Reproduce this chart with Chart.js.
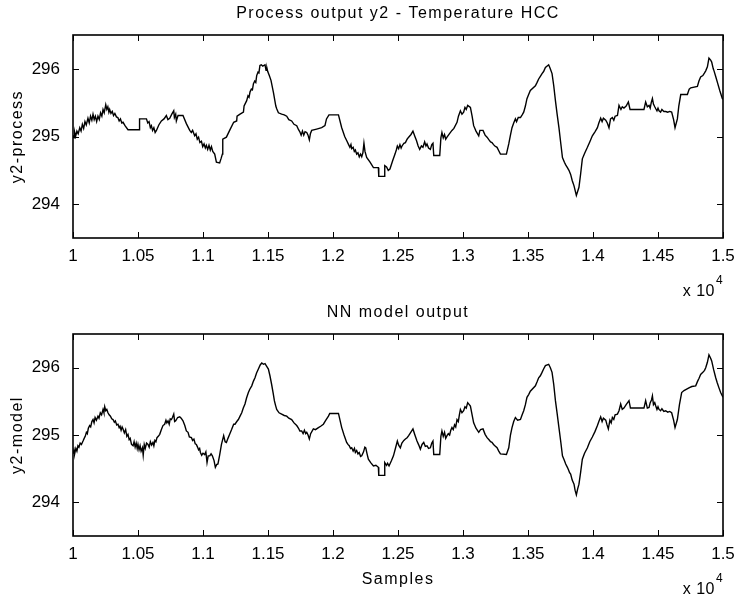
<!DOCTYPE html>
<html><head><meta charset="utf-8">
<script src="https://cdn.jsdelivr.net/npm/chart.js@4.4.1/dist/chart.umd.min.js"></script>
<style>
html,body{margin:0;padding:0;background:#fff;width:737px;height:601px;overflow:hidden}
.box{position:absolute;left:0;width:737px}
#w1{top:0;height:300px}
#w2{top:300px;height:301px}
canvas{display:block}
</style></head><body>
<div class="box" id="w1"><canvas id="c1" width="737" height="300"></canvas></div>
<div class="box" id="w2"><canvas id="c2" width="737" height="301"></canvas></div>
<script>
// ---- data (samples, temperature) ----
const xTickValues = [10000,10500,11000,11500,12000,12500,13000,13500,14000,14500,15000];
const xTickLabels = ['1','1.05','1.1','1.15','1.2','1.25','1.3','1.35','1.4','1.45','1.5'];
const yTickValues = [294,295,296];
const yTickLabels = ['294','295','296'];
const titles = ['Process output y2 - Temperature HCC','NN model output'];
const yTitles = ['y2-process','y2-model'];
const xTitle = 'Samples';

const processData = [[10000,295.02],[10008,294.98],[10013,295.06],[10020,295.00],[10030,295.08],[10040,295.04],[10052,295.13],[10062,295.08],[10072,295.18],[10082,295.12],[10092,295.22],[10102,295.17],[10115,295.27],[10125,295.20],[10135,295.30],[10145,295.24],[10154,295.33],[10163,295.25],[10172,295.30],[10182,295.22],[10192,295.30],[10202,295.25],[10212,295.35],[10222,295.30],[10231,295.40],[10240,295.35],[10252,295.47],[10260,295.40],[10268,295.44],[10276,295.36],[10282,295.40],[10292,295.34],[10302,295.37],[10312,295.31],[10322,295.34],[10334,295.29],[10345,295.28],[10355,295.23],[10365,295.26],[10375,295.20],[10385,295.21],[10400,295.16],[10423,295.10],[10508,295.10],[10512,295.26],[10565,295.26],[10575,295.20],[10585,295.22],[10595,295.13],[10603,295.16],[10612,295.09],[10622,295.13],[10632,295.06],[10642,295.09],[10660,295.17],[10680,295.23],[10700,295.26],[10718,295.31],[10730,295.25],[10744,295.27],[10760,295.33],[10775,295.38],[10780,295.28],[10790,295.33],[10795,295.23],[10808,295.31],[10846,295.31],[10872,295.19],[10898,295.09],[10910,295.06],[10920,295.09],[10936,295.01],[10946,295.04],[10956,294.96],[10966,294.99],[10976,294.91],[10988,294.93],[10998,294.85],[11008,294.89],[11018,294.83],[11026,294.87],[11036,294.81],[11046,294.87],[11056,294.80],[11065,294.85],[11075,294.78],[11090,294.74],[11103,294.62],[11128,294.61],[11140,294.68],[11149,294.74],[11152,294.96],[11180,294.99],[11205,295.09],[11236,295.21],[11259,295.23],[11262,295.30],[11285,295.33],[11311,295.36],[11316,295.45],[11336,295.53],[11346,295.60],[11354,295.58],[11362,295.66],[11372,295.70],[11380,295.69],[11388,295.78],[11398,295.82],[11406,295.80],[11413,295.90],[11423,295.95],[11430,295.94],[11438,296.05],[11448,296.06],[11460,296.04],[11477,296.06],[11485,295.98],[11492,296.01],[11498,295.96],[11510,295.90],[11523,295.83],[11542,295.65],[11560,295.45],[11567,295.41],[11580,295.35],[11605,295.33],[11625,295.32],[11644,295.30],[11660,295.25],[11682,295.23],[11700,295.18],[11721,295.16],[11735,295.10],[11745,295.07],[11755,295.02],[11765,295.08],[11775,295.02],[11785,295.07],[11798,295.06],[11808,295.02],[11818,294.95],[11826,295.04],[11836,295.09],[11874,295.11],[11913,295.13],[11938,295.16],[11950,295.26],[11969,295.32],[12042,295.32],[12067,295.13],[12090,295.00],[12105,294.94],[12120,294.88],[12130,294.84],[12138,294.88],[12144,294.82],[12155,294.84],[12164,294.78],[12172,294.80],[12182,294.74],[12192,294.76],[12202,294.70],[12212,294.74],[12221,294.70],[12230,294.76],[12238,294.90],[12246,294.78],[12259,294.69],[12285,294.62],[12311,294.54],[12349,294.54],[12352,294.41],[12395,294.41],[12398,294.57],[12412,294.55],[12425,294.50],[12438,294.52],[12460,294.65],[12477,294.74],[12487,294.80],[12495,294.86],[12505,294.82],[12515,294.88],[12524,294.83],[12531,294.86],[12545,294.90],[12557,294.91],[12570,294.96],[12582,294.99],[12600,295.03],[12615,295.08],[12630,295.00],[12642,294.94],[12655,294.86],[12667,294.81],[12680,294.86],[12692,294.84],[12705,294.92],[12715,294.86],[12723,294.89],[12735,294.83],[12749,294.81],[12760,294.88],[12769,294.90],[12775,294.72],[12821,294.72],[12830,294.98],[12838,295.06],[12848,294.98],[12858,295.03],[12867,294.96],[12877,294.99],[12895,295.04],[12915,295.09],[12930,295.12],[12954,295.21],[12965,295.30],[12980,295.38],[12992,295.33],[13005,295.36],[13015,295.43],[13025,295.40],[13036,295.46],[13057,295.43],[13070,295.30],[13082,295.16],[13100,295.08],[13121,295.01],[13130,295.09],[13154,295.09],[13170,295.02],[13185,294.99],[13200,294.95],[13212,294.92],[13223,294.91],[13235,294.88],[13245,294.86],[13262,294.84],[13275,294.79],[13288,294.74],[13334,294.74],[13352,294.89],[13365,295.02],[13377,295.13],[13390,295.20],[13403,295.26],[13412,295.22],[13425,295.28],[13442,295.28],[13455,295.32],[13467,295.36],[13480,295.45],[13492,295.56],[13505,295.62],[13518,295.68],[13557,295.75],[13570,295.80],[13582,295.85],[13595,295.89],[13608,295.93],[13620,295.96],[13634,296.02],[13659,296.06],[13670,296.01],[13685,295.93],[13698,295.75],[13711,295.53],[13724,295.33],[13738,295.13],[13752,294.90],[13765,294.69],[13780,294.62],[13790,294.58],[13803,294.54],[13815,294.50],[13828,294.44],[13840,294.35],[13854,294.27],[13872,294.13],[13892,294.25],[13905,294.45],[13918,294.67],[13935,294.75],[13957,294.84],[13975,294.92],[13995,295.01],[14015,295.07],[14034,295.13],[14045,295.20],[14059,295.27],[14070,295.22],[14080,295.27],[14098,295.24],[14110,295.20],[14123,295.13],[14135,295.26],[14149,295.28],[14160,295.24],[14170,295.30],[14188,295.31],[14200,295.46],[14215,295.40],[14225,295.44],[14238,295.42],[14255,295.45],[14272,295.51],[14285,295.40],[14298,295.40],[14392,295.40],[14405,295.51],[14418,295.44],[14431,295.46],[14440,295.42],[14448,295.50],[14457,295.56],[14465,295.48],[14475,295.44],[14483,295.41],[14492,295.38],[14500,295.42],[14508,295.38],[14520,295.36],[14530,295.40],[14545,295.37],[14559,295.37],[14575,295.36],[14590,295.37],[14605,295.36],[14620,295.25],[14631,295.13],[14649,295.26],[14660,295.45],[14675,295.62],[14726,295.62],[14740,295.70],[14752,295.72],[14803,295.74],[14815,295.82],[14828,295.88],[14845,295.90],[14858,295.94],[14867,295.97],[14880,296.03],[14892,296.16],[14905,296.13],[14913,296.10],[14925,296.00],[14931,295.97],[14945,295.88],[14957,295.80],[14975,295.68],[14995,295.56],[15000,295.55]];

const modelData = [[10000,294.72],[10008,294.78],[10013,294.72],[10022,294.80],[10030,294.76],[10038,294.84],[10046,294.82],[10055,294.88],[10065,294.86],[10077,294.91],[10086,294.95],[10094,294.98],[10103,295.04],[10110,295.02],[10118,295.10],[10128,295.14],[10136,295.12],[10145,295.20],[10154,295.23],[10162,295.18],[10170,295.26],[10180,295.22],[10192,295.28],[10200,295.25],[10210,295.33],[10220,295.30],[10231,295.38],[10238,295.33],[10244,295.42],[10252,295.36],[10260,295.38],[10269,295.33],[10278,295.30],[10288,295.28],[10298,295.24],[10308,295.23],[10318,295.19],[10326,295.21],[10336,295.15],[10346,295.16],[10355,295.11],[10362,295.13],[10370,295.07],[10378,295.12],[10385,295.09],[10395,295.03],[10405,295.08],[10414,294.98],[10423,295.01],[10432,294.93],[10440,294.95],[10450,294.86],[10462,294.84],[10470,294.90],[10478,294.82],[10486,294.88],[10494,294.80],[10500,294.86],[10508,294.78],[10516,294.84],[10524,294.76],[10534,294.81],[10540,294.70],[10548,294.86],[10556,294.80],[10566,294.88],[10577,294.86],[10586,294.82],[10595,294.90],[10605,294.85],[10615,294.89],[10622,294.84],[10630,294.92],[10638,294.90],[10646,294.96],[10656,294.98],[10667,295.01],[10680,295.08],[10692,295.14],[10705,295.16],[10715,295.22],[10722,295.18],[10731,295.21],[10740,295.16],[10748,295.24],[10757,295.23],[10765,295.26],[10775,295.31],[10782,295.20],[10790,295.21],[10805,295.26],[10821,295.27],[10832,295.25],[10846,295.21],[10860,295.14],[10872,295.06],[10885,295.04],[10895,294.97],[10911,294.96],[10920,294.92],[10930,294.94],[10940,294.87],[10949,294.86],[10958,294.82],[10966,294.78],[10974,294.80],[10980,294.74],[10990,294.70],[11000,294.73],[11013,294.71],[11022,294.75],[11031,294.59],[11040,294.69],[11052,294.69],[11062,294.72],[11072,294.69],[11085,294.62],[11095,294.52],[11105,294.56],[11115,294.57],[11128,294.70],[11142,294.86],[11159,294.99],[11170,294.90],[11180,294.89],[11192,294.95],[11205,295.01],[11220,295.08],[11236,295.16],[11246,295.16],[11260,295.20],[11272,295.23],[11285,295.28],[11298,295.33],[11310,295.40],[11323,295.46],[11335,295.55],[11349,295.63],[11360,295.68],[11375,295.73],[11388,295.80],[11400,295.85],[11412,295.92],[11426,295.98],[11440,296.04],[11452,296.07],[11465,296.05],[11477,296.06],[11490,296.02],[11503,295.98],[11515,295.88],[11528,295.75],[11540,295.62],[11549,295.51],[11558,295.44],[11567,295.38],[11585,295.33],[11605,295.31],[11625,295.29],[11644,295.28],[11660,295.25],[11682,295.23],[11700,295.18],[11721,295.14],[11735,295.10],[11745,295.06],[11759,295.06],[11770,295.02],[11780,295.07],[11790,295.02],[11798,295.04],[11808,295.00],[11818,294.94],[11828,295.02],[11849,295.09],[11865,295.08],[11888,295.11],[11905,295.13],[11926,295.16],[11945,295.22],[11965,295.28],[11975,295.32],[12042,295.32],[12067,295.11],[12085,295.00],[12105,294.89],[12115,294.86],[12125,294.84],[12135,294.80],[12144,294.81],[12155,294.76],[12165,294.80],[12172,294.74],[12182,294.77],[12192,294.72],[12202,294.74],[12212,294.68],[12221,294.69],[12235,294.75],[12245,294.82],[12252,294.81],[12262,294.72],[12272,294.64],[12290,294.59],[12311,294.54],[12330,294.55],[12349,294.52],[12352,294.40],[12395,294.40],[12398,294.59],[12412,294.55],[12420,294.58],[12431,294.54],[12450,294.62],[12465,294.69],[12480,294.80],[12495,294.91],[12505,294.85],[12518,294.81],[12530,294.88],[12545,294.92],[12557,294.94],[12570,294.96],[12582,294.99],[12598,295.04],[12615,295.09],[12630,295.00],[12646,294.91],[12660,294.85],[12672,294.79],[12685,294.86],[12698,294.89],[12710,294.83],[12723,294.84],[12735,294.80],[12749,294.81],[12760,294.88],[12769,294.91],[12775,294.71],[12821,294.71],[12830,294.98],[12838,295.06],[12848,294.98],[12858,295.04],[12867,294.95],[12877,294.99],[12887,295.02],[12897,295.00],[12906,295.07],[12915,295.11],[12925,295.08],[12935,295.15],[12944,295.12],[12954,295.23],[12964,295.20],[12972,295.30],[12980,295.38],[12992,295.33],[13005,295.36],[13015,295.42],[13025,295.40],[13036,295.48],[13057,295.43],[13070,295.30],[13082,295.18],[13100,295.10],[13121,295.04],[13135,295.08],[13154,295.09],[13170,295.01],[13185,294.96],[13200,294.93],[13212,294.90],[13223,294.89],[13235,294.86],[13245,294.84],[13262,294.81],[13275,294.76],[13288,294.72],[13334,294.71],[13352,294.81],[13365,295.00],[13377,295.11],[13390,295.20],[13403,295.26],[13420,295.22],[13442,295.23],[13455,295.30],[13467,295.36],[13480,295.45],[13492,295.56],[13505,295.60],[13518,295.65],[13557,295.73],[13570,295.79],[13582,295.85],[13595,295.88],[13608,295.93],[13620,295.98],[13634,296.03],[13659,296.05],[13672,296.00],[13685,295.93],[13698,295.75],[13711,295.51],[13724,295.32],[13738,295.11],[13752,294.90],[13765,294.69],[13780,294.62],[13790,294.57],[13803,294.52],[13812,294.48],[13820,294.44],[13828,294.42],[13840,294.33],[13854,294.27],[13862,294.18],[13872,294.11],[13882,294.20],[13892,294.27],[13905,294.45],[13918,294.64],[13935,294.73],[13957,294.81],[13975,294.90],[13995,294.97],[14015,295.05],[14034,295.14],[14045,295.20],[14059,295.27],[14070,295.20],[14080,295.25],[14098,295.22],[14108,295.15],[14118,295.09],[14130,295.22],[14140,295.18],[14149,295.26],[14160,295.23],[14170,295.30],[14188,295.31],[14200,295.36],[14213,295.46],[14225,295.38],[14238,295.40],[14255,295.45],[14277,295.51],[14288,295.40],[14298,295.40],[14392,295.40],[14405,295.51],[14418,295.40],[14431,295.41],[14440,295.48],[14450,295.52],[14457,295.58],[14465,295.45],[14475,295.48],[14483,295.43],[14492,295.38],[14500,295.42],[14508,295.38],[14520,295.36],[14530,295.39],[14545,295.35],[14559,295.36],[14575,295.34],[14590,295.35],[14605,295.33],[14620,295.22],[14631,295.11],[14649,295.23],[14665,295.45],[14682,295.63],[14700,295.66],[14738,295.70],[14760,295.72],[14790,295.73],[14805,295.80],[14815,295.84],[14828,295.90],[14845,295.93],[14858,295.96],[14867,296.00],[14880,296.08],[14892,296.19],[14905,296.14],[14913,296.10],[14928,295.97],[14944,295.85],[14955,295.78],[14969,295.70],[14982,295.63],[14995,295.58],[15000,295.56]];

const FONT = "'Liberation Sans', Arial, Helvetica, sans-serif";

function framePlugin(idx, showXTitle) {
  return {
    id: 'matlabFrame' + idx,
    afterDraw(chart) {
      const ctx = chart.ctx, a = chart.chartArea;
      const xs = chart.scales.x, ys = chart.scales.y;
      ctx.save();
      ctx.strokeStyle = '#000';
      ctx.lineWidth = 1.6;
      ctx.strokeRect(a.left, a.top, a.right - a.left, a.bottom - a.top);
      ctx.lineWidth = 1;
      const L = 6;
      ctx.beginPath();
      xTickValues.forEach(v => {
        const px = Math.round(xs.getPixelForValue(v)) + 0.5;
        ctx.moveTo(px, a.bottom); ctx.lineTo(px, a.bottom - L);
        ctx.moveTo(px, a.top); ctx.lineTo(px, a.top + L);
      });
      yTickValues.forEach(v => {
        const py = Math.round(ys.getPixelForValue(v)) + 0.5;
        ctx.moveTo(a.left, py); ctx.lineTo(a.left + L, py);
        ctx.moveTo(a.right, py); ctx.lineTo(a.right - L, py);
      });
      ctx.stroke();

      ctx.fillStyle = '#000';
      if ('letterSpacing' in ctx) ctx.letterSpacing = '1.5px';
      ctx.font = '16px ' + FONT;
      ctx.textAlign = 'center';
      ctx.textBaseline = 'middle';
      const cx = (a.left + a.right) / 2;
      ctx.fillText(titles[idx], cx, a.top - 21);
      if (showXTitle) ctx.fillText(xTitle, cx, a.bottom + 44);
      ctx.save();
      ctx.translate(18, (a.top + a.bottom) / 2);
      ctx.rotate(-Math.PI / 2);
      ctx.fillText(yTitles[idx], 0, 0);
      ctx.restore();
      if ('letterSpacing' in ctx) ctx.letterSpacing = '0.5px';
      // exponent label
      ctx.textAlign = 'right';
      ctx.font = '16px ' + FONT;
      ctx.fillText('x 10', a.right - 8, a.bottom + 54);
      ctx.textAlign = 'left';
      ctx.font = '12px ' + FONT;
      ctx.fillText('4', a.right - 7, a.bottom + 43);
      ctx.restore();
    }
  };
}

function makeChart(id, data, idx, padTop, xHeight, showXTitle) {
  return new Chart(document.getElementById(id), {
    type: 'line',
    data: { datasets: [{
      data: data.map(p => ({x: p[0], y: p[1]})),
      borderColor: '#000', borderWidth: 1.4, pointRadius: 0, tension: 0,
      fill: false
    }]},
    options: {
      responsive: false, animation: false, devicePixelRatio: 1,
      layout: { padding: { top: padTop, right: 14, left: 0, bottom: 0 } },
      plugins: { legend: { display: false }, tooltip: { enabled: false }, title: { display: false } },
      scales: {
        x: {
          type: 'linear', min: 10000, max: 15000,
          afterBuildTicks: s => { s.ticks = xTickValues.map(v => ({value: v})); },
          afterFit: s => { s.height = xHeight; s.paddingLeft = 0; s.paddingRight = 0; },
          grid: { display: false, drawTicks: false }, border: { display: false },
          ticks: { color: '#000', font: { size: 17, family: FONT }, padding: 8, maxRotation: 0, autoSkip: false,
            callback: (v) => xTickLabels[xTickValues.indexOf(v)] }
        },
        y: {
          min: 293.5, max: 296.5,
          afterBuildTicks: s => { s.ticks = yTickValues.map(v => ({value: v})); },
          afterFit: s => { s.width = 73; s.paddingTop = 0; s.paddingBottom = 0; },
          grid: { display: false, drawTicks: false }, border: { display: false },
          ticks: { color: '#000', font: { size: 17, family: FONT }, padding: 13,
            callback: (v) => yTickLabels[yTickValues.indexOf(v)] }
        }
      }
    },
    plugins: [framePlugin(idx, showXTitle)]
  });
}

makeChart('c1', processData, 0, 35, 62, false);
makeChart('c2', modelData, 1, 34, 65, true);
</script>
</body></html>
